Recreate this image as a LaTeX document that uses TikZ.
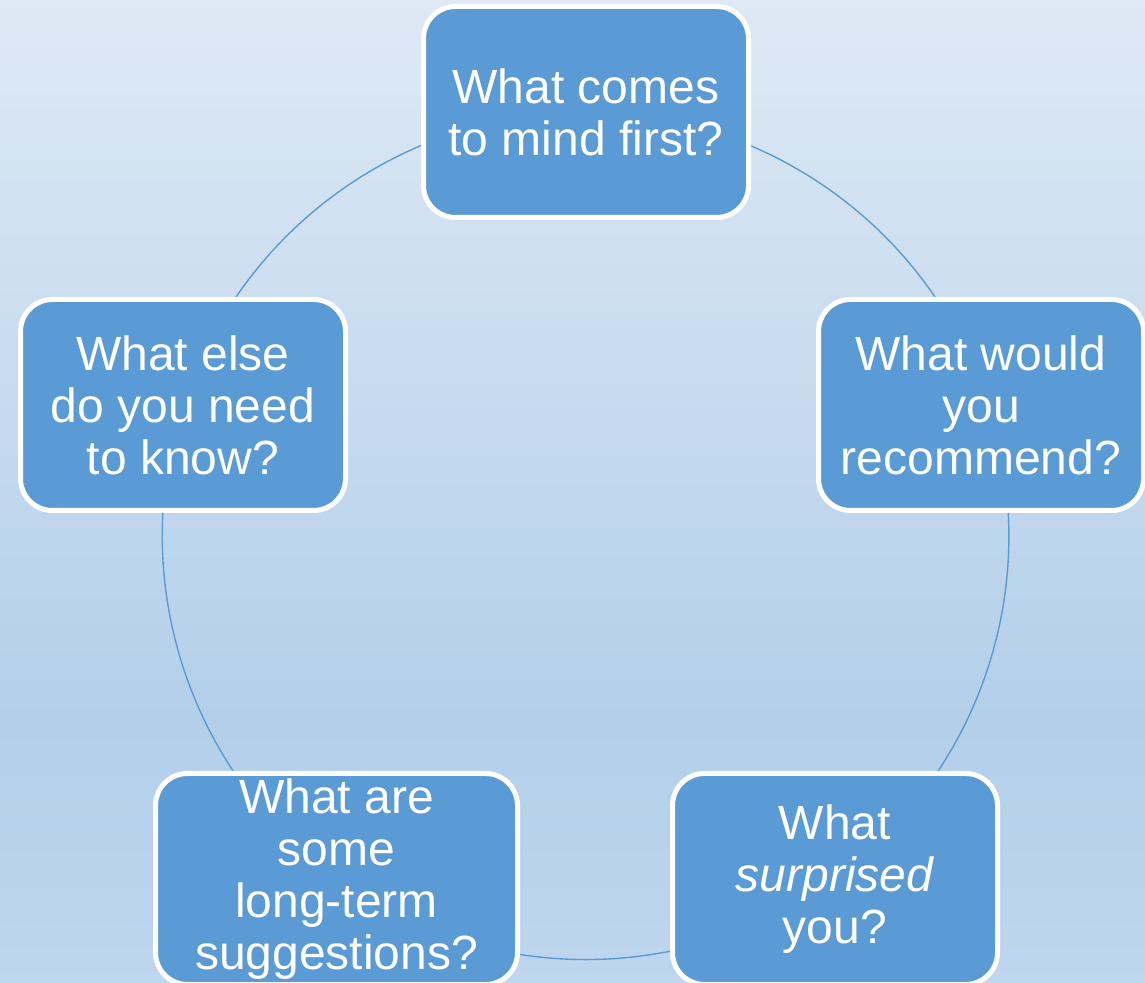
\documentclass[tikz,border=0pt]{standalone}
\usepackage{fontspec}
\setmainfont{Liberation Sans}
\usepackage{xcolor}
\usepackage{tikz}
\usetikzlibrary{backgrounds}

\definecolor{boxblue}{HTML}{5B9BD5}
\definecolor{bgtop}{HTML}{DEE9F5}
\definecolor{bgmid}{HTML}{B3CFEA}
\definecolor{bgbot}{HTML}{BED6EE}

\tikzset{
  qbox/.style={rectangle, rounded corners=32pt, fill=boxblue, draw=white,
    line width=5pt, text=white, align=center, inner sep=0pt,
    minimum width=325pt, minimum height=211pt,
    font=\fontsize{48}{52}\selectfont},
  ring/.style={draw=boxblue, line width=1.4pt},
}

\begin{document}
\begin{tikzpicture}[x=1pt, y=1pt]

\useasboundingbox (0,0) rectangle (1145,982);
\clip (0,0) rectangle (1145,982);

% the five questions, clockwise from the top
\node[qbox] (first) at (586,870) {What comes\\to mind first?};
\node[qbox] (recommend) at (981,577) {What would\\you\\recommend?};
\node[qbox] (surprised) at (835,103) {What\\\textit{surprised}\\you?};
\node[qbox, minimum width=362pt] (longterm) at (336.5,103) {What are\\some\\long-term\\suggestions?};
\node[qbox] (know) at (183,577) {What else\\do you need\\to know?};

% the ring passes a little right of this box's centre
\coordinate (recring) at ([xshift=7pt]recommend.center);

\begin{pgfonlayer}{background}
\shade[top color=bgtop, bottom color=bgmid] (0,262) rectangle (1145,982);
\shade[top color=bgmid, bottom color=bgbot] (0,0) rectangle (1145,262);

% ring through the boxes
\foreach \a/\b in {first.center/recring, recring/surprised.center,
                   surprised.center/longterm.center,
                   longterm.center/know.center, know.center/first.center}
  \draw[ring] (\a) to[bend left=36, looseness=0.94] (\b);
\end{pgfonlayer}

\end{tikzpicture}
\end{document}
